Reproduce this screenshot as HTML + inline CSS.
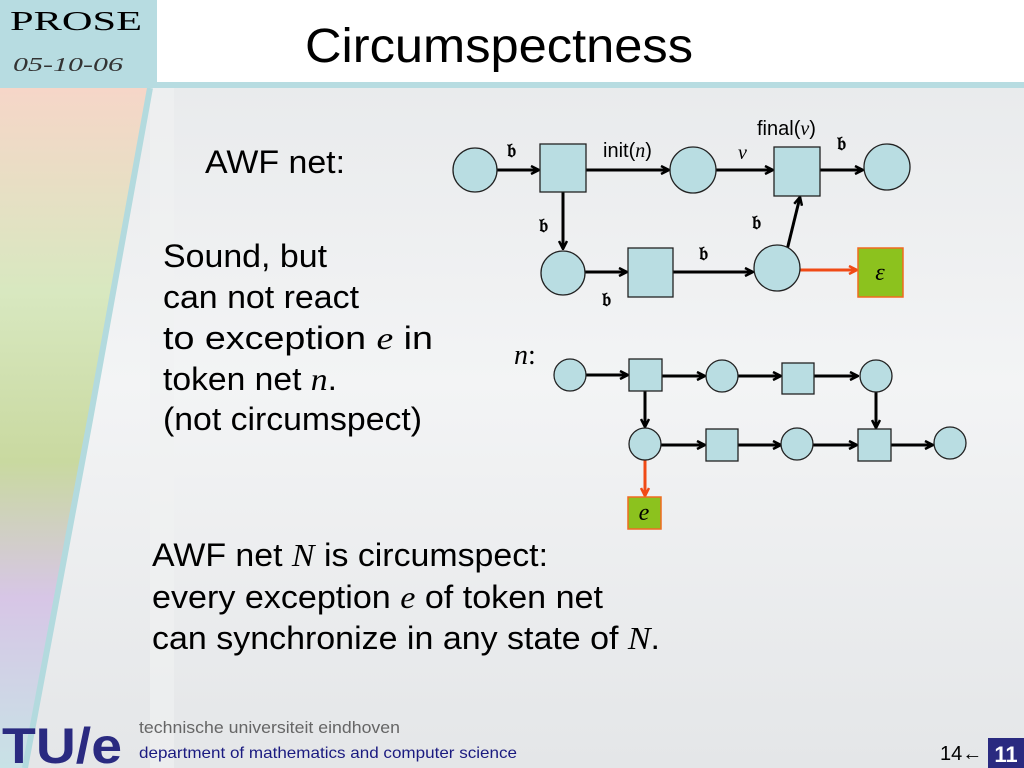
<!DOCTYPE html>
<html><head><meta charset="utf-8"><style>
html,body{margin:0;padding:0;width:1024px;height:768px;overflow:hidden}
body{background:#e9ebed;font-family:"Liberation Sans",sans-serif}
</style></head><body>
<svg width="1024" height="768" xmlns="http://www.w3.org/2000/svg" style="position:absolute;left:0;top:0">
<defs>
<linearGradient id="bg" x1="0" y1="0" x2="0" y2="1">
<stop offset="0" stop-color="#e6e8ea"/><stop offset="0.5" stop-color="#f3f4f5"/><stop offset="1" stop-color="#e4e6e8"/>
</linearGradient>
<linearGradient id="fr" x1="0" y1="0" x2="0" y2="1">
<stop offset="0" stop-color="#f6d6c8"/><stop offset="0.3" stop-color="#d8e8c0"/><stop offset="0.55" stop-color="#c9d9a0"/><stop offset="0.75" stop-color="#d7c6e6"/><stop offset="1" stop-color="#c8e2e6"/>
</linearGradient>
<marker id="ah" markerWidth="10" markerHeight="10" refX="9" refY="5" orient="auto" markerUnits="userSpaceOnUse">
<path d="M1,1 L9,5 L1,9" fill="none" stroke="#000" stroke-width="2.5"/></marker>
<marker id="ahr" markerWidth="10" markerHeight="10" refX="9" refY="5" orient="auto" markerUnits="userSpaceOnUse">
<path d="M1,1 L9,5 L1,9" fill="none" stroke="#f04a16" stroke-width="2.5"/></marker>
</defs>
<rect width="1024" height="768" fill="url(#bg)"/>
<rect x="150" y="88" width="24" height="680" fill="#f0f1f2" opacity="0.6"/>
<polygon points="0,88 150,88 90,420 25,768 0,768" fill="url(#fr)"/>
<polyline points="150,88 90,420 25,768" fill="none" stroke="#b3dade" stroke-width="6"/>
<rect x="0" y="0" width="157" height="85" fill="#b7dce1"/>
<rect x="157" y="0" width="867" height="82" fill="#fff"/>
<rect x="0" y="82" width="1024" height="6" fill="#b7dce1"/>
<text x="10" y="30" font-family="'Liberation Serif',serif" font-size="27" fill="#000" textLength="132" lengthAdjust="spacingAndGlyphs">PROSE</text>
<text x="13" y="71" font-family="'Liberation Serif',serif" font-style="italic" font-size="20" fill="#333" textLength="110" lengthAdjust="spacingAndGlyphs">05-10-06</text>
<text x="305" y="62" font-size="48" fill="#000" textLength="388" lengthAdjust="spacingAndGlyphs">Circumspectness</text>

<g font-size="32" fill="#000" lengthAdjust="spacingAndGlyphs">
<text x="205" y="173" textLength="140" lengthAdjust="spacingAndGlyphs">AWF net:</text>
<text x="163" y="267" textLength="164" lengthAdjust="spacingAndGlyphs">Sound, but</text>
<text x="163" y="308" textLength="196" lengthAdjust="spacingAndGlyphs">can not react</text>
<text x="163" y="349" textLength="270" lengthAdjust="spacingAndGlyphs">to exception <tspan font-family="'Liberation Serif',serif" font-style="italic">e</tspan> in</text>
<text x="163" y="390" textLength="174" lengthAdjust="spacingAndGlyphs">token net <tspan font-family="'Liberation Serif',serif" font-style="italic">n</tspan>.</text>
<text x="163" y="430" textLength="259" lengthAdjust="spacingAndGlyphs">(not circumspect)</text>
<text x="152" y="566" textLength="396" lengthAdjust="spacingAndGlyphs">AWF net <tspan font-family="'Liberation Serif',serif" font-style="italic">N</tspan> is circumspect:</text>
<text x="152" y="608" textLength="451" lengthAdjust="spacingAndGlyphs">every exception <tspan font-family="'Liberation Serif',serif" font-style="italic">e</tspan> of token net</text>
<text x="152" y="649" textLength="508" lengthAdjust="spacingAndGlyphs">can synchronize in any state of <tspan font-family="'Liberation Serif',serif" font-style="italic">N</tspan>.</text>
</g>

<g stroke="#000" stroke-width="3" fill="none" marker-end="url(#ah)">
<line x1="497" y1="170" x2="539" y2="170"/>
<line x1="586" y1="170" x2="669" y2="170"/>
<line x1="716" y1="170" x2="773" y2="170"/>
<line x1="820" y1="170" x2="863" y2="170"/>
<line x1="563" y1="192" x2="563" y2="249"/>
<line x1="585" y1="272" x2="627" y2="272"/>
<line x1="673" y1="272" x2="753" y2="272"/>
<line x1="787" y1="250" x2="800" y2="197"/>
</g>
<line x1="800" y1="270" x2="857" y2="270" stroke="#f04a16" stroke-width="3" marker-end="url(#ahr)"/>
<g fill="#b9dde2" stroke="#222" stroke-width="1.3">
<circle cx="475" cy="170" r="22"/>
<rect x="540" y="144" width="46" height="48"/>
<circle cx="693" cy="170" r="23"/>
<rect x="774" y="147" width="46" height="49"/>
<circle cx="887" cy="167" r="23"/>
<circle cx="563" cy="273" r="22"/>
<rect x="628" y="248" width="45" height="49"/>
<circle cx="777" cy="268" r="23"/>
</g>
<rect x="858" y="248" width="45" height="49" fill="#8cc21e" stroke="#f06a20" stroke-width="1.5"/>
<text x="880" y="280" text-anchor="middle" font-family="'Liberation Serif',serif" font-style="italic" font-size="24">ε</text>
<g font-family="'DejaVu Serif',serif" font-weight="bold" font-size="20" fill="#000">
<text x="507" y="157">𝔟</text><text x="539" y="232">𝔟</text><text x="602" y="306">𝔟</text>
<text x="699" y="260">𝔟</text><text x="752" y="229">𝔟</text><text x="837" y="150">𝔟</text>
</g>
<text x="603" y="157" font-size="20">init(<tspan font-family="'Liberation Serif',serif" font-style="italic">n</tspan>)</text>
<text x="738" y="159" font-family="'Liberation Serif',serif" font-style="italic" font-size="20">v</text>
<text x="757" y="135" font-size="20">final(<tspan font-family="'Liberation Serif',serif" font-style="italic">v</tspan>)</text>

<text x="514" y="364" font-family="'Liberation Serif',serif" font-style="italic" font-size="28">n<tspan font-style="normal">:</tspan></text>
<g stroke="#000" stroke-width="3" fill="none" marker-end="url(#ah)">
<line x1="586" y1="375" x2="628" y2="375"/>
<line x1="662" y1="376" x2="705" y2="376"/>
<line x1="738" y1="376" x2="781" y2="376"/>
<line x1="814" y1="376" x2="858" y2="376"/>
<line x1="645" y1="391" x2="645" y2="427"/>
<line x1="876" y1="391" x2="876" y2="428"/>
<line x1="661" y1="445" x2="705" y2="445"/>
<line x1="738" y1="445" x2="781" y2="445"/>
<line x1="813" y1="445" x2="857" y2="445"/>
<line x1="891" y1="445" x2="933" y2="445"/>
</g>
<line x1="645" y1="460" x2="645" y2="496" stroke="#f04a16" stroke-width="3" marker-end="url(#ahr)"/>
<g fill="#b9dde2" stroke="#222" stroke-width="1.3">
<circle cx="570" cy="375" r="16"/>
<rect x="629" y="359" width="33" height="32"/>
<circle cx="722" cy="376" r="16"/>
<rect x="782" y="363" width="32" height="31"/>
<circle cx="876" cy="376" r="16"/>
<circle cx="645" cy="444" r="16"/>
<rect x="706" y="429" width="32" height="32"/>
<circle cx="797" cy="444" r="16"/>
<rect x="858" y="429" width="33" height="32"/>
<circle cx="950" cy="443" r="16"/>
</g>
<rect x="628" y="497" width="33" height="32" fill="#8cc21e" stroke="#f06a20" stroke-width="1.5"/>
<text x="644" y="520" text-anchor="middle" font-family="'Liberation Serif',serif" font-style="italic" font-size="24">e</text>

<text x="2" y="763" font-size="50" font-weight="bold" fill="#2a2a80" textLength="120" lengthAdjust="spacingAndGlyphs">TU/e</text>
<text x="139" y="733" font-size="17" fill="#666" textLength="261" lengthAdjust="spacingAndGlyphs">technische universiteit eindhoven</text>
<text x="139" y="758" font-size="16" fill="#1a1a80" textLength="378" lengthAdjust="spacingAndGlyphs">department of mathematics and computer science</text>
<text x="940" y="760" font-size="20" fill="#000">14←</text>
<rect x="988" y="738" width="36" height="30" fill="#2a2a80"/>
<text x="1006" y="762" text-anchor="middle" font-size="22" font-weight="bold" fill="#fff">11</text>
</svg>
</body></html>
